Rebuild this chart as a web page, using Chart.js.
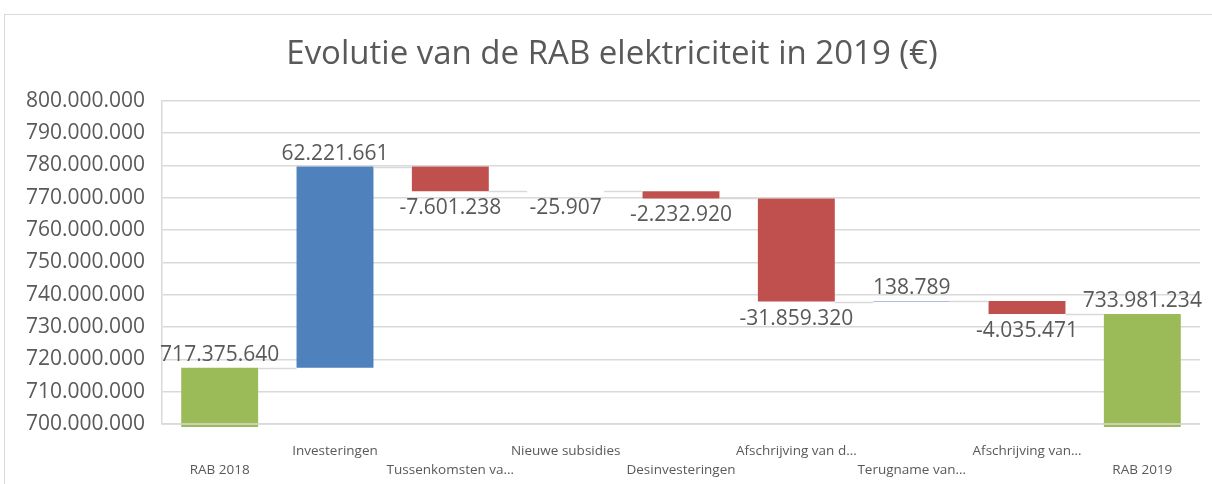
<!DOCTYPE html>
<html>
<head>
<meta charset="utf-8">
<script src="https://cdn.jsdelivr.net/npm/chart.js@4"></script>
<style>
  body { margin: 0; background: #fff; }
  #frame { position: absolute; left: 4px; top: 14px; width: 1212px; height: 480px; border: 1px solid #d9d9d9; box-sizing: border-box; }
  #wrap { position: absolute; left: 5px; top: 15px; width: 1207px; height: 469px; }
</style>
</head>
<body>
<div id="frame"></div>
<div id="wrap"><canvas id="myChart"></canvas></div>
<script>
const categories = ['RAB 2018', 'Investeringen', 'Tussenkomsten va…', 'Nieuwe subsidies', 'Desinvesteringen',
    'Afschrijving van d…', 'Terugname van…', 'Afschrijving van…', 'RAB 2019'];
const amounts = [717375640, 62221661, -7601238, -25907, -2232920, -31859320, 138789, -4035471, 733981234];
const isTotal = [true, false, false, false, false, false, false, false, true];
const yTicks = [700000000, 710000000, 720000000, 730000000, 740000000, 750000000, 760000000, 770000000, 780000000, 790000000, 800000000];

const green = '#9BBB59', blue = '#4F81BD', red = '#C0504D';
const textColor = '#595959';

function fmt(v) {
    const s = Math.abs(v).toString().replace(/\B(?=(\d{3})+(?!\d))/g, '.');
    return (v < 0 ? '-' : '') + s;
}

// floating ranges + running level after each bar
let running = 0;
const ranges = [], levels = [], colors = [];
amounts.forEach((v, i) => {
    if (isTotal[i]) {
        ranges.push([0, v]);
        running = v;
        colors.push(green);
    } else {
        ranges.push([running, running + v]);
        running += v;
        colors.push(v >= 0 ? blue : red);
    }
    levels.push(running);
});

// alternate rows for the category labels
const tickLabels = categories.map((c, i) => i % 2 === 0 ? ['', c] : [c, '']);

const waterfallExtras = {
    id: 'waterfallExtras',
    afterDatasetsDraw(chart) {
        const ctx = chart.ctx;
        const y = chart.scales.y;
        const area = chart.chartArea;
        const bars = chart.getDatasetMeta(0).data;
        ctx.save();
        // bottom axis line over the bars
        ctx.strokeStyle = '#d9d9d9';
        ctx.lineWidth = 1.5;
        ctx.beginPath();
        ctx.moveTo(area.left, area.bottom);
        ctx.lineTo(area.right, area.bottom);
        ctx.stroke();
        // connectors
        for (let i = 0; i < bars.length - 1; i++) {
            const py = Math.round(y.getPixelForValue(levels[i])) + 0.5;
            ctx.beginPath();
            ctx.moveTo(bars[i].x + bars[i].width / 2, py);
            ctx.lineTo(bars[i + 1].x - bars[i + 1].width / 2, py);
            ctx.stroke();
        }
        // value labels
        ctx.fillStyle = textColor;
        ctx.font = '21px "Open Sans"';
        ctx.textAlign = 'center';
        ctx.textBaseline = 'alphabetic';
        bars.forEach((b, i) => {
            const top = Math.min(b.y, b.base);
            const bottom = Math.max(b.y, b.base);
            if (isTotal[i]) {
                ctx.fillText(fmt(amounts[i]), b.x, Math.min(top, area.bottom) - 7);
            } else if (amounts[i] >= 0) {
                ctx.fillText(fmt(amounts[i]), b.x, top - 7);
            } else {
                ctx.fillText(fmt(amounts[i]), b.x, bottom + 23);
            }
        });
        ctx.restore();
    }
};

new Chart(document.getElementById('myChart'), {
    type: 'bar',
    data: {
        labels: tickLabels,
        datasets: [{
            data: ranges,
            backgroundColor: colors,
            barPercentage: 0.667,
            categoryPercentage: 1,
            clip: { left: 0, top: 0, right: 0, bottom: 3 }
        }]
    },
    options: {
        responsive: true,
        maintainAspectRatio: false,
        animation: false,
        layout: { padding: { left: 19, right: 12, top: 0, bottom: 0 } },
        plugins: {
            legend: { display: false },
            tooltip: { enabled: false },
            title: {
                display: true,
                text: 'Evolutie van de RAB elektriciteit in 2019 (€)',
                color: textColor,
                font: { family: 'Open Sans', size: 33, weight: 'normal' },
                padding: { top: 20, bottom: 26 }
            }
        },
        scales: {
            x: {
                grid: { display: false, drawTicks: false },
                border: { display: false },
                afterFit(scale) { scale.height = 60; },
                ticks: {
                    color: textColor,
                    font: { family: 'Open Sans', size: 13.5, lineHeight: 1.4 },
                    autoSkip: false,
                    maxRotation: 0,
                    padding: 18
                }
            },
            y: {
                min: 700000000,
                max: 800000000,
                afterBuildTicks(scale) { scale.ticks = yTicks.map(v => ({ value: v })); },
                afterFit(scale) { scale.width = 138; },
                grid: { color: '#d9d9d9', lineWidth: 1.5, drawTicks: false },
                border: { display: true, color: '#d9d9d9', width: 1.5 },
                ticks: {
                    color: textColor,
                    font: { family: 'Open Sans', size: 21 },
                    padding: 17,
                    callback: v => fmt(v)
                }
            }
        }
    },
    plugins: [waterfallExtras]
});
</script>
</body>
</html>
